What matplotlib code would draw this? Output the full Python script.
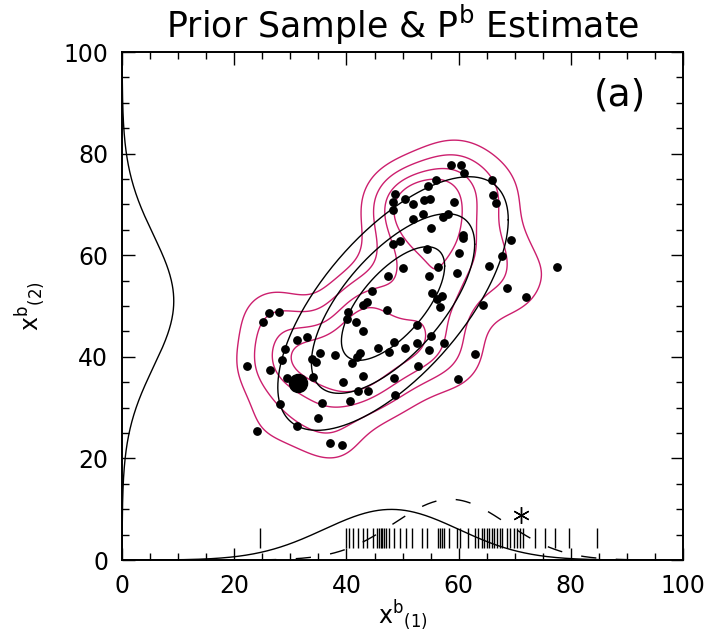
import matplotlib
matplotlib.use("Agg")
import matplotlib.pyplot as plt
import numpy as np
from matplotlib.ticker import MultipleLocator

# prior sample x^b = (x1, x2)
x1 = [58.6, 60.4, 61.0, 66.0, 56.0, 54.5, 48.7, 48.3, 48.3, 50.4, 51.9, 53.8,
      54.9, 59.2, 66.1, 66.7, 53.7, 51.9, 57.2, 58.1, 55.1, 60.8, 60.8, 69.3,
      49.6, 48.3, 54.4, 60.1, 67.7, 50.1, 56.3, 65.4, 47.4, 54.7, 59.7, 68.6,
      77.6, 44.5, 43.6, 43.0, 47.2, 26.1, 27.9, 25.2, 40.3, 40.1, 41.7, 42.9,
      32.9, 31.2, 48.4, 29.1, 35.3, 38.0, 42.4, 41.8, 45.7, 47.5, 50.4, 28.5,
      33.8, 34.6, 40.9, 22.2, 26.3, 29.4, 34.1, 39.4, 42.9, 48.5, 42.0, 43.9,
      48.7, 35.6, 40.6, 28.2, 35.0, 31.1, 24.0, 55.2, 56.1, 57.1, 56.7, 72.0,
      64.3, 52.5, 55.1, 52.5, 57.3, 54.8, 62.9, 52.8, 59.9, 37.0, 39.2]
x2 = [77.8, 77.8, 76.2, 74.8, 74.8, 73.7, 72.0, 70.5, 68.9, 71.1, 70.1, 70.9,
      71.1, 70.5, 71.9, 70.3, 68.1, 67.1, 67.6, 68.1, 65.4, 64.0, 63.4, 63.0,
      62.9, 62.2, 61.2, 60.5, 59.9, 57.5, 57.7, 57.9, 56.0, 56.0, 56.6, 53.5,
      57.7, 53.0, 50.8, 50.2, 49.2, 48.6, 48.9, 46.9, 48.9, 47.4, 46.9, 45.1,
      44.0, 43.3, 43.0, 41.5, 40.8, 40.4, 40.8, 39.9, 41.7, 41.0, 41.7, 39.4,
      39.5, 39.0, 38.8, 38.2, 37.5, 35.9, 36.1, 35.1, 36.2, 35.9, 33.3, 33.3,
      32.5, 31.0, 31.4, 30.8, 28.0, 26.4, 25.5, 52.5, 51.3, 52.0, 49.9, 51.7,
      50.2, 46.3, 44.1, 42.7, 42.8, 41.3, 40.6, 38.2, 35.6, 23.1, 22.6]
big_point = (31.4, 34.8)

# rug of x(1) values along the bottom
rug = [24.6, 40.0, 40.5, 41.2, 42.0, 43.0, 43.6, 44.8, 45.4, 45.8, 46.1, 46.4,
       46.7, 47.0, 47.5, 48.4, 49.6, 50.7, 51.6, 53.4, 54.3, 56.4, 56.7, 57.0,
       57.3, 58.2, 59.7, 60.2, 61.6, 62.9, 63.5, 64.1, 64.5, 65.0, 65.4, 65.9,
       66.3, 66.8, 67.4, 67.7, 68.6, 69.2, 69.8, 70.4, 70.9, 71.5, 73.6, 75.4,
       77.2, 79.6, 84.6]
truth = (71.2, 8.9)

# marginal curves of the estimate (mean, sd) and dashed reference curve
mean_b = [48.0, 51.0]
sd_b = [12.0, 13.0]
ref_mean, ref_sd = 58.5, 10.0
curve_scale = 300.0

# ellipses of P^b
ell_mean = [48.3, 50.5]
ell_sd = [10.7, 13.0]
ell_rho = 0.66
ell_r = [0.86, 1.36, 1.92]

# kde: kernel widths and contour levels (fraction of peak)
kde_h = [4.6, 5.0]
kde_frac = [0.19, 0.36, 0.55, 0.71]

MAG = "#cc1f6e"

fig = plt.figure(figsize=(7.10, 6.35), dpi=100)
ax = fig.add_axes([0.172, 0.118, 0.79, 0.80])

# kde contours (magenta)
gx, gy = np.meshgrid(np.linspace(0, 100, 301), np.linspace(0, 100, 301))
dens = np.zeros_like(gx)
for px, py in zip(x1, x2):
    dens += np.exp(-0.5 * (((gx - px) / kde_h[0]) ** 2 + ((gy - py) / kde_h[1]) ** 2))
levels = [f * dens.max() for f in kde_frac]
ax.contour(gx, gy, dens, levels=levels, colors=MAG, linewidths=1.0)

# ellipses of the estimate
t = np.linspace(0, 2 * np.pi, 400)
C = np.array([[ell_sd[0] ** 2, ell_rho * ell_sd[0] * ell_sd[1]],
              [ell_rho * ell_sd[0] * ell_sd[1], ell_sd[1] ** 2]])
L = np.linalg.cholesky(C)
for r in ell_r:
    e = L @ np.vstack([r * np.cos(t), r * np.sin(t)])
    ax.plot(e[0] + ell_mean[0], e[1] + ell_mean[1], color="black", lw=1.0)

# sample
ax.scatter(x1, x2, s=28, color="black", zorder=3)
ax.scatter([big_point[0]], [big_point[1]], s=170, color="black", zorder=3)

# marginals
xs = np.linspace(0, 100, 500)
def gauss(v, m, s):
    return curve_scale * np.exp(-0.5 * ((v - m) / s) ** 2) / (np.sqrt(2 * np.pi) * s)
ax.plot(xs, gauss(xs, mean_b[0], sd_b[0]), color="black", lw=1.0)
ax.plot(gauss(xs, mean_b[1], sd_b[1]), xs, color="black", lw=1.0)
ax.plot(xs, gauss(xs, ref_mean, ref_sd), color="black", lw=1.0, dashes=(11, 14))

ax.vlines(rug, 2.4, 6.3, color="black", lw=1.0)
ax.plot([truth[0]], [truth[1]], marker=(6, 2, 0), ms=12, color="black", mew=1.0)

ax.text(88.8, 91.5, "(a)", fontsize=27, ha="center", va="center")

ax.set_xlim(0, 100)
ax.set_ylim(0, 100)
ax.xaxis.set_major_locator(MultipleLocator(20))
ax.yaxis.set_major_locator(MultipleLocator(20))
ax.xaxis.set_minor_locator(MultipleLocator(5))
ax.yaxis.set_minor_locator(MultipleLocator(5))
ax.tick_params(which="both", direction="in", top=True, right=True, labelsize=17, width=1.0)
ax.tick_params(which="major", length=9, pad=10)
ax.tick_params(which="minor", length=5)
for sp in ax.spines.values():
    sp.set_linewidth(1.4)

ax.set_title(r"Prior Sample & P$^{\mathregular{b}}$ Estimate", fontsize=25, pad=10)
ax.set_xlabel(r"x$^{\mathregular{b}}$$_{\mathregular{(1)}}$", fontsize=17, labelpad=0)
ax.set_ylabel(r"x$^{\mathregular{b}}$$_{\mathregular{(2)}}$", fontsize=17, labelpad=12)

fig.savefig("out.png", dpi=100)
